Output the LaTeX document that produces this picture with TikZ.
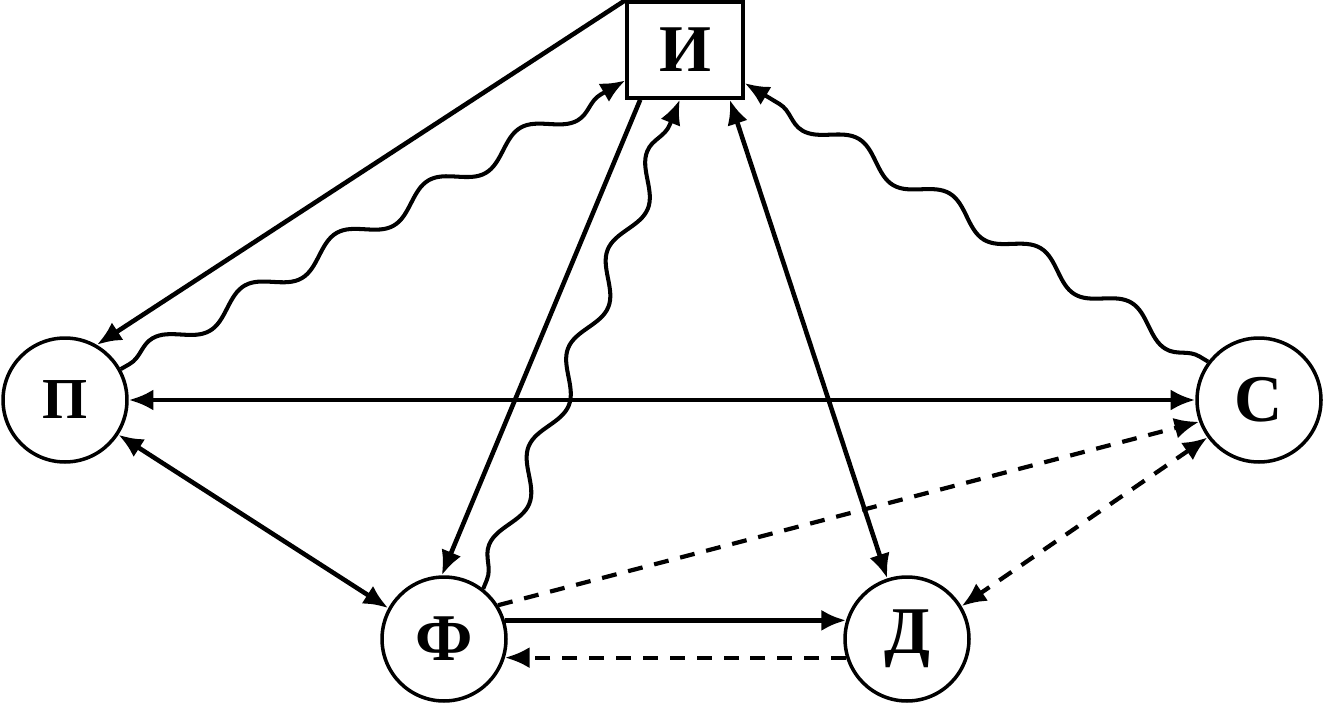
\documentclass[tikz,border=0pt]{standalone}
\usepackage{fontspec}
\setmainfont{Liberation Serif}
\usetikzlibrary{arrows.meta,decorations.pathmorphing}

\begin{document}
\begin{tikzpicture}
  [x=0.02cm,y=-0.02cm,>={Latex[length=14pt,width=12pt]},
   every node/.style={circle,draw,line width=2pt,minimum size=2.48cm,inner sep=0pt,font=\fontsize{38}{42}\selectfont\bfseries},
   link/.style={line width=2.6pt},
   dashlink/.style={line width=2.4pt,dash pattern=on 8.5pt off 6.8pt},
   wave/.style={line width=2.3pt,decorate,decoration={snake,segment length=2.12cm,amplitude=0.22cm,pre length=0.2cm,post length=0.5cm}}]
  \useasboundingbox (0,0) rectangle (1324,706);
  \node[font=\fontsize{33}{36}\selectfont\bfseries] (p) at (65,400) {П};
  \node[rectangle,minimum width=2.32cm,minimum height=1.92cm] (i) at (685,50) {И};
  \node (s) at (1259,400) {С};
  \node (f) at (444,639) {Ф};
  \node (d) at (907,639) {Д};

\foreach \from/\to in {i.north west/p.60, i.228/f.92, f.17/d.163}
    \draw[link,->] (\from) -- (\to);
\foreach \from/\to in {i.312/d.108, p/s, p.-33/f.151}
    \draw[link,<->] (\from) -- (\to);
    \draw[dashlink,->] (d.197) -- (f.-17);
    \draw[dashlink,->] (f.32) -- (s.200);
    \draw[dashlink,<->] (s.216) -- (d.31);
\foreach \from/\to in {p.29/i.207, f.52/i.264, s.143/i.331}
    \draw[wave,->] (\from) -- (\to);
\end{tikzpicture}
\end{document}
